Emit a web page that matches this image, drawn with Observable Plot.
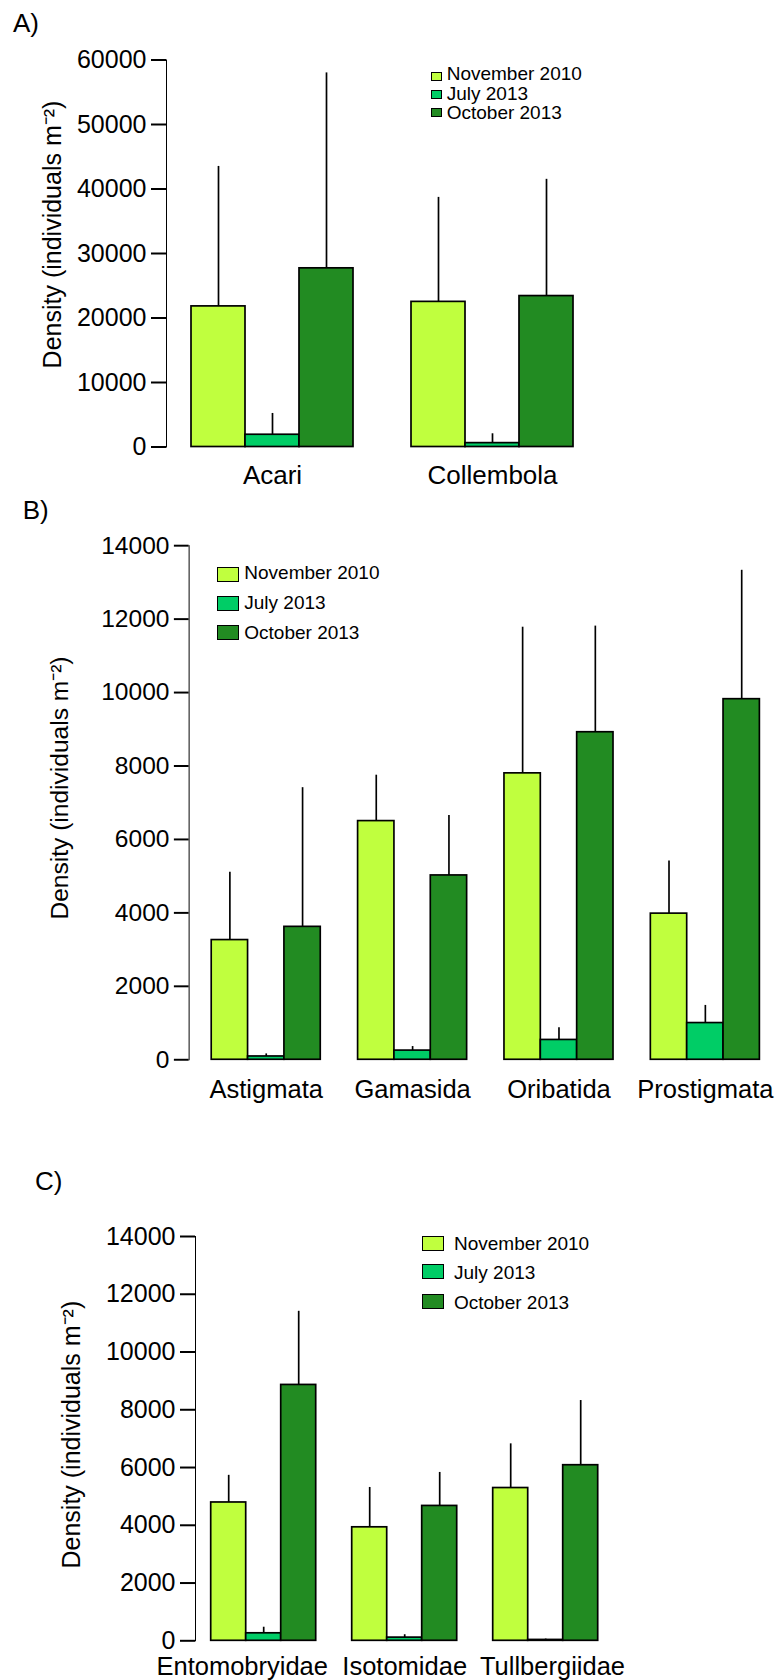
<!DOCTYPE html>
<html>
<head>
<meta charset="utf-8">
<script src="https://cdn.jsdelivr.net/npm/d3@7"></script>
<script src="https://cdn.jsdelivr.net/npm/@observablehq/plot@0.6"></script>
<style>
html, body { margin: 0; padding: 0; background: #fff; overflow: hidden; }
#root { position: relative; width: 781px; height: 1680px; overflow: hidden; font-family: "Liberation Sans", Arial, sans-serif; color: #000; }
.abs { position: absolute; white-space: nowrap; line-height: 1; }
#root svg { position: absolute; left: 0; overflow: visible; }
#root svg [aria-label="y-axis tick"] path { stroke-width: 2px; }
</style>
</head>
<body>
<div id="root"></div>
<script>
// ---- shared ----
const periods = ["November 2010", "July 2013", "October 2013"];
const colors = ["#C0FF3E", "#00CD66", "#228B22"];
const yTitle = "Density (individuals m⁻²)";

// ---- Panel A ----
const catsA = ["Acari", "Collembola"];
const novA = [21800, 22500];
const julA = [1900, 600];
const octA = [27700, 23400];
const novErrA = [21700, 16200];
const julErrA = [3300, 1450];
const octErrA = [30300, 18100];

// ---- Panel B ----
const catsB = ["Astigmata", "Gamasida", "Oribatida", "Prostigmata"];
const novB = [3260, 6500, 7800, 3980];
const julB = [90, 250, 540, 1000];
const octB = [3620, 5020, 8920, 9820];
const novErrB = [1850, 1250, 3980, 1430];
const julErrB = [70, 110, 335, 480];
const octErrB = [3790, 1630, 2890, 3510];

// ---- Panel C ----
const catsC = ["Entomobryidae", "Isotomidae", "Tullbergiidae"];
const novC = [4790, 3930, 5290];
const julC = [260, 110, 30];
const octC = [8860, 4670, 6080];
const novErrC = [940, 1380, 1530];
const julErrC = [210, 100, 30];
const octErrC = [2550, 1160, 2240];

const root = document.getElementById("root");

function panel(o) {
  const rows = [];
  o.cats.forEach((c, i) => periods.forEach((p, j) => rows.push({cat: c, period: p, value: o.series[j][i], err: o.errs[j][i]})));
  const nudge = o.nudge || o.cats.map(() => 0);
  const labelMarks = o.cats.map((c, i) => Plot.text([c], {
    fx: d => d, x: () => periods[1], text: d => d, frameAnchor: "bottom", lineAnchor: "top",
    dy: o.tickPad, dx: nudge[i], fontSize: o.catSize, fill: "#000"
  }));
  const chart = Plot.plot({
    width: o.width || 781,
    height: o.height,
    marginTop: o.marginTop,
    marginBottom: o.marginBottom,
    marginLeft: o.marginLeft,
    marginRight: o.marginRight,
    style: {fontFamily: "'Liberation Sans', Arial, sans-serif", fontSize: "25px", color: "#000", background: "transparent"},
    fx: {domain: o.cats, padding: 0, label: null, axis: null},
    x: {domain: periods, padding: 0, axis: null, insetLeft: o.insetLeft, insetRight: o.insetRight},
    y: {domain: [0, o.yMax], ticks: o.yMax / o.yStep, tickSize: 15, tickPadding: 5, line: true,
        tickFormat: d3.format("d"), label: yTitle, labelAnchor: "center", labelArrow: "none", labelOffset: o.labelOffset},
    color: {domain: periods, range: colors},
    marks: [
      Plot.ruleX(rows, {fx: "cat", x: "period", y1: "value", y2: d => d.value + d.err, stroke: "#000", strokeWidth: 1.7}),
      Plot.barY(rows, {fx: "cat", x: "period", y: "value", fill: "period", stroke: "#000", strokeWidth: 1.7}),
      ...labelMarks
    ]
  });
  chart.style.top = o.top + "px";
  d3.select(chart).selectAll('g[aria-label="y-axis label"]').each(function () {
    const t = this.getAttribute("transform") || "";
    this.setAttribute("transform", (t + " translate(0," + o.labelShift + ")").trim());
  });
  root.appendChild(chart);
}

function text(str, left, baseline, size) {
  const t = document.createElement("div");
  t.className = "abs";
  t.textContent = str;
  t.style.left = left + "px";
  t.style.top = (baseline - 0.8465 * size) + "px";
  t.style.fontSize = size + "px";
  root.appendChild(t);
}

function legend(x, w, h, tops, textX, baselines, size) {
  periods.forEach((p, j) => {
    const sq = document.createElement("div");
    sq.className = "abs";
    Object.assign(sq.style, {left: x + "px", top: tops[j] + "px", width: w + "px", height: h + "px",
      background: colors[j], border: "1.6px solid #000", boxSizing: "border-box"});
    root.appendChild(sq);
    text(p, textX, baselines[j], size);
  });
}

panel({cats: catsA, series: [novA, julA, octA], errs: [novErrA, julErrA, octErrA],
  yMax: 60000, yStep: 10000, top: 0, height: 500, marginTop: 59.5, marginBottom: 53.5,
  marginLeft: 165, marginRight: 174.6, insetLeft: 24, insetRight: 31.1, tickPad: 18.5, catSize: 26,
  labelOffset: 123, labelShift: -19});

panel({cats: catsB, series: [novB, julB, octB], errs: [novErrB, julErrB, octErrB],
  yMax: 14000, yStep: 2000, top: 500, height: 620, marginTop: 46, marginBottom: 50.7, width: 795,
  marginLeft: 191, marginRight: 6.8, insetLeft: 22.3, insetRight: 14.8, tickPad: 20.7, catSize: 26,
  labelOffset: 141, labelShift: -15});

panel({cats: catsC, series: [novC, julC, octC], errs: [novErrC, julErrC, octErrC],
  yMax: 14000, yStep: 2000, top: 1200, height: 480, marginTop: 36, marginBottom: 39.7,
  marginLeft: 194.3, marginRight: 162.8, insetLeft: 15.7, insetRight: 19.6, tickPad: 16, catSize: 25.5,
  nudge: [-21.5, 0, 6.8],
  labelOffset: 133, labelShift: -4});

text("A)", 13, 32, 26);
text("B)", 22.7, 519.3, 26);
text("C)", 35, 1190, 26);

legend(431, 11, 9, [71.7, 90, 108.3], 446.7, [80, 100, 119], 19);
legend(216.7, 22, 15, [567.3, 596, 625], 244.3, [579.5, 609.5, 639], 19);
legend(421.7, 22, 15, [1235.7, 1264.3, 1293.7], 454, [1250, 1279.5, 1309], 19);
</script>
</body>
</html>
